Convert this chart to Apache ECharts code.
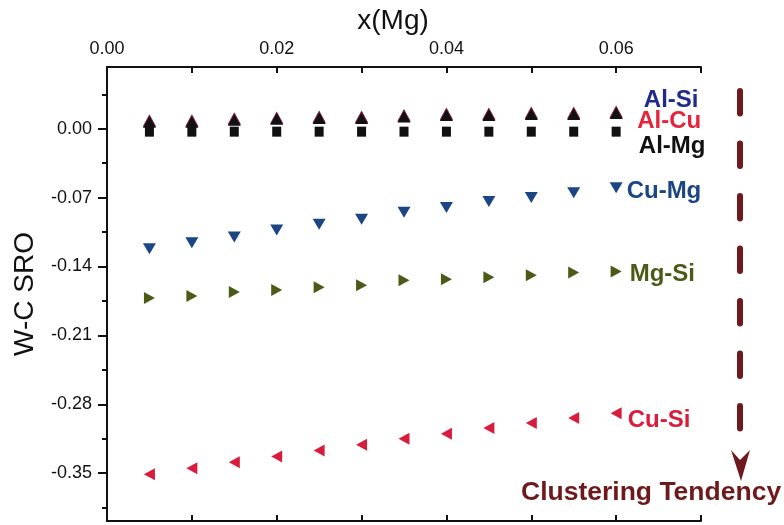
<!DOCTYPE html>
<html><head><meta charset="utf-8">
<script src="https://cdn.jsdelivr.net/npm/echarts@6/dist/echarts.min.js"></script>
<style>html,body{margin:0;padding:0;background:#fff}#c{width:784px;height:525px}</style>
</head><body><div id="c"></div>
<script>
// ---- data ----
const xMg = [0.005,0.010,0.015,0.020,0.025,0.030,0.035,0.040,0.045,0.050,0.055,0.060];
const alSi = [0.0085,0.0085,0.0105,0.0115,0.0125,0.0125,0.014,0.0155,0.0155,0.0165,0.0165,0.0175];
const alCu = [0.008,0.008,0.010,0.011,0.012,0.012,0.0135,0.015,0.015,0.016,0.016,0.017];
const alTri = [0.007,0.007,0.009,0.010,0.011,0.011,0.0125,0.014,0.014,0.015,0.015,0.016];
const alMg = [-0.003,-0.003,-0.003,-0.003,-0.003,-0.003,-0.003,-0.003,-0.003,-0.003,-0.003,-0.003];
const cuMg = [-0.122,-0.116,-0.110,-0.103,-0.097,-0.092,-0.085,-0.080,-0.074,-0.070,-0.065,-0.060];
const mgSi = [-0.172,-0.170,-0.166,-0.164,-0.161,-0.159,-0.154,-0.153,-0.151,-0.149,-0.146,-0.145];
const cuSi = [-0.351,-0.345,-0.339,-0.333,-0.327,-0.321,-0.315,-0.310,-0.304,-0.299,-0.294,-0.289];
const yTicks = [0, -0.07, -0.14, -0.21, -0.28, -0.35];
const yMinorTicks = [0.035, -0.035, -0.105, -0.175, -0.245, -0.315, -0.385];
const xTicks = [0, 0.02, 0.04, 0.06];
const xMinorTicks = [0, 0.01, 0.02, 0.03, 0.04, 0.05, 0.06, 0.07];
const seriesNames = ['Al-Si','Al-Cu','Al-Mg','Cu-Mg','Mg-Si','Cu-Si'];

const FONT = 'Liberation Sans, Arial, sans-serif';
const chart = echarts.init(document.getElementById('c'));
const pts = arr => arr.map((v,i)=>[xMg[i], v]);
const last = xMg.length - 1;
function lbl(name, color, opts){
  return Object.assign({
    show: true,
    formatter: p => p.dataIndex === last ? name : '',
    color: color, fontFamily: FONT, fontWeight: 'bold', fontSize: 24, opacity: 1
  }, opts);
}
const YMIN = -0.3986, YMAX = 0.0627;
chart.setOption({
  animation: false,
  backgroundColor: '#fff',
  grid: {left: 107, right: 83, top: 67, bottom: 4},
  xAxis: [
    {type:'value', position:'top', min:0, max:0.07,
     name:'x(Mg)', nameLocation:'middle', nameGap:30,
     nameTextStyle:{fontFamily:FONT, fontSize:28, color:'#111', padding:[0,22,0,0]},
     axisLine:{show:true, onZero:false, lineStyle:{color:'#111', width:2}},
     axisTick:{show:true, inside:true, length:6, customValues:xMinorTicks, lineStyle:{color:'#111', width:2}},
     axisLabel:{customValues:xTicks, formatter:v=>v.toFixed(2), fontFamily:FONT, fontSize:18, color:'#111', margin:9},
     splitLine:{show:false}},
    {type:'value', position:'bottom', min:0, max:0.07,
     axisLine:{show:true, onZero:false, lineStyle:{color:'#111', width:2}},
     axisTick:{show:true, inside:true, length:6, customValues:xMinorTicks, lineStyle:{color:'#111', width:2}},
     axisLabel:{show:false}, splitLine:{show:false}}
  ],
  yAxis: [
    {type:'value', min:YMIN, max:YMAX, position:'left',
     name:'W-C SRO', nameLocation:'middle', nameGap:68, nameRotate:90,
     nameTextStyle:{fontFamily:FONT, fontSize:28, color:'#111'},
     axisLine:{show:true, onZero:false, lineStyle:{color:'#111', width:2}},
     axisTick:{show:true, inside:false, length:9, customValues:yTicks, lineStyle:{color:'#111', width:2}},
     axisLabel:{customValues:yTicks, formatter:v=>(Math.abs(v)<1e-9?0:v).toFixed(2), fontFamily:FONT, fontSize:18, color:'#111', margin:15},
     splitLine:{show:false}},
    {type:'value', min:YMIN, max:YMAX, position:'left',
     axisLine:{show:false},
     axisTick:{show:true, inside:false, length:5, customValues:yMinorTicks, lineStyle:{color:'#111', width:2}},
     axisLabel:{show:false}, splitLine:{show:false}}
  ],
  series: [
    {name:seriesNames[0], type:'scatter', data:pts(alSi), symbol:'triangle', symbolSize:[13,12], itemStyle:{color:'#1f2a8c', opacity:1},
     label: lbl('Al-Si', '#1f2a8c', {position:'inside', offset:[55,-11]})},
    {name:seriesNames[1], type:'scatter', data:pts(alCu), symbol:'triangle', symbolSize:[13,12], itemStyle:{color:'#e3263b', opacity:1},
     label: lbl('Al-Cu', '#e3263b', {position:'inside', offset:[53,9]})},
    {name:'Al-Si / Al-Cu', type:'scatter', data:pts(alTri), symbol:'triangle', symbolSize:[13,12], itemStyle:{color:'#111', opacity:1}, label:{show:false}},
    {name:seriesNames[2], type:'scatter', data:pts(alMg), symbol:'rect', symbolSize:[9,10], itemStyle:{color:'#111', opacity:1},
     label: lbl('Al-Mg', '#111', {position:'inside', offset:[56,15]})},
    {name:seriesNames[3], type:'scatter', data:pts(cuMg), symbol:'triangle', symbolRotate:180, symbolSize:[13,11], itemStyle:{color:'#1b4583', opacity:1},
     label: lbl('Cu-Mg', '#1b4583', {position:'right', distance:4, offset:[0,4]})},
    {name:seriesNames[4], type:'scatter', data:pts(mgSi), symbol:'triangle', symbolRotate:-90, symbolSize:[12,11], itemStyle:{color:'#4c5a17', opacity:1},
     label: lbl('Mg-Si', '#4c5a17', {position:'right', distance:8, offset:[0,3]})},
    {name:seriesNames[5], type:'scatter', data:pts(cuSi), symbol:'triangle', symbolRotate:90, symbolSize:[12,11], itemStyle:{color:'#d91c3c', opacity:1},
     label: lbl('Cu-Si', '#d91c3c', {position:'right', distance:6, offset:[0,7]})}
  ],
  graphic: [
    {type:'line', shape:{x1:740, y1:91, x2:740, y2:429}, style:{stroke:'#6e1a1c', lineWidth:6, lineDash:[22.5,30], lineCap:'round'}},
    {type:'polygon', shape:{points:[[731,450],[740,460],[750,450],[741,481]]}, style:{fill:'#6e1a1c'}},
    {type:'text', x:521, y:493, style:{text:'Clustering Tendency', font:'bold 26.5px '+FONT, fill:'#6e1a1c', verticalAlign:'middle'}}
  ]
});
</script></body></html>
